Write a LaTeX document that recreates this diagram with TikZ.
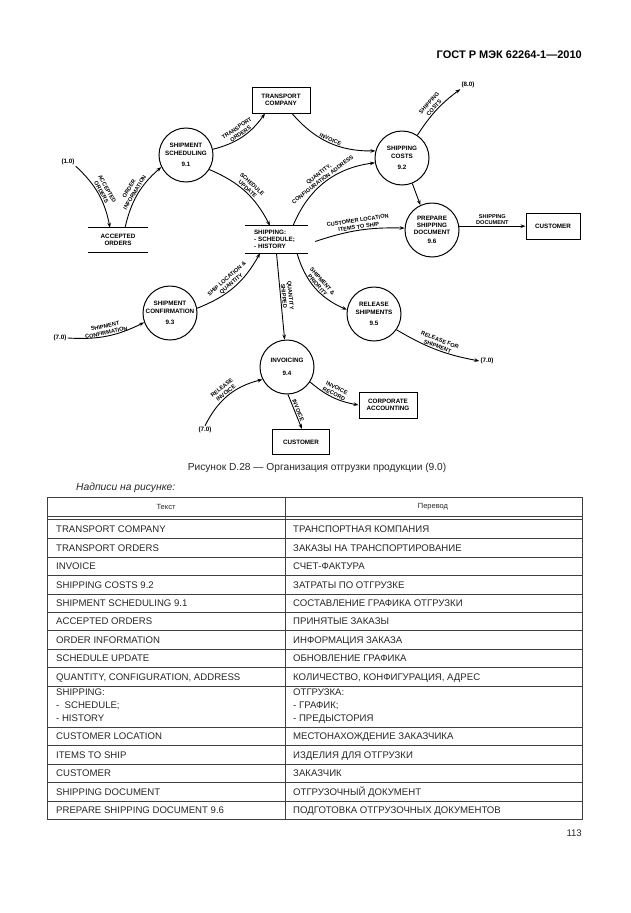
\documentclass[tikz,border=0pt]{standalone}
\usepackage{fontspec}
\setmainfont{Liberation Sans}
\usetikzlibrary{arrows.meta,calc}
\begin{document}
\begin{tikzpicture}[x=1pt,y=-1pt,
 proc/.style={circle,draw,line width=1pt,minimum size=54pt,inner sep=0pt,align=center,font=\fontsize{6.3}{7.2}\selectfont\bfseries},
 ext/.style={rectangle,draw,line width=1pt,minimum width=58pt,minimum height=26pt,inner sep=1pt,align=center,font=\fontsize{6.3}{7.5}\selectfont\bfseries},
 storebox/.style={inner sep=0pt,minimum height=24pt,minimum width=60pt,align=center,font=\fontsize{6.3}{7.3}\selectfont\bfseries},
 storeline/.style={line width=1pt},
 term/.style={font=\fontsize{6.3}{7}\selectfont\bfseries,inner sep=1pt},
 flow/.style={-{Stealth[length=5pt,width=3.6pt]},line width=0.9pt},
 lbl/.style={font=\fontsize{5.6}{6.6}\selectfont\bfseries,align=center,inner sep=1pt,sloped},
 tbl/.style={font=\fontsize{9.6}{13}\selectfont,anchor=west,inner sep=0pt,text height=6.9pt,text depth=0pt,text=black!85},
 tline/.style={line width=0.8pt,black!75},
]
\useasboundingbox (0,0) rectangle (630,913);

% header
\node[anchor=east,font=\fontsize{11}{13}\selectfont\bfseries,inner sep=0pt] (hdr) at (582,55) {ГОСТ Р МЭК 62264-1—2010};

% ---------- diagram nodes ----------
\node[ext] (tc) at (281,100) {TRANSPORT\\COMPANY};
\node[proc] (sched) at (186,155) {SHIPMENT\\SCHEDULING\\[4pt]9.1};
\node[proc] (costs) at (402,158) {SHIPPING\\COSTS\\[4pt]9.2};
\node[proc] (prep) at (432,230) {PREPARE\\SHIPPING\\DOCUMENT\\[2pt]9.6};
\node[ext,minimum width=54pt] (cust1) at (553,226) {CUSTOMER};
\node[proc] (conf) at (170,313) {SHIPMENT\\CONFIRMATION\\[4pt]9.3};
\node[proc] (inv) at (287,367) {INVOICING\\[6pt]9.4};
\node[proc] (rel) at (374,314) {RELEASE\\SHIPMENTS\\[4pt]9.5};
\node[ext] (corp) at (388,405) {CORPORATE\\ACCOUNTING};
\node[ext,minimum width=57pt,minimum height=25pt] (cust2) at (301,442) {CUSTOMER};

\node[storebox] (acc) at (118,240) {ACCEPTED\\ORDERS};
\draw[storeline] (acc.north west) -- (acc.north east) (acc.south west) -- (acc.south east);
\node[storebox,minimum height=27pt,text width=45pt,inner xsep=9pt,align=left] (shp) at (276.5,239.5) {SHIPPING:\\- SCHEDULE;\\- HISTORY};
\draw[storeline] (shp.north west) -- (shp.north east) (shp.south west) -- (shp.south east);

\node[term] (t1) at (68,162) {(1.0)};
\node[term] (t8) at (468,85) {(8.0)};
\node[term] (t7a) at (60,338) {(7.0)};
\node[term] (t7b) at (487,361) {(7.0)};
\node[term] (t7c) at (205,430) {(7.0)};

% ---------- flows ----------
\draw[flow] (t1.south east) to[bend left=18] node[lbl,above]{ACCEPTED\\ORDERS} ([xshift=-8pt]acc.north);
\draw[flow] ([xshift=7pt]acc.north) to[bend left=18] node[lbl,above]{ORDER\\INFORMATION} (sched.206);
\draw[flow] (sched.12) to[bend right=20] node[lbl,above]{TRANSPORT\\ORDERS} ([xshift=-16pt]tc.south);
\draw[flow] ([xshift=11pt]tc.south) to[bend right=25] node[lbl,above]{INVOICE} (costs.165);
\draw[flow] (sched.-32) to[bend left=20] node[lbl,above]{SCHEDULE\\UPDATE} ([xshift=-6.5pt]shp.north);
\draw[flow] ([xshift=16.5pt]shp.north) to[bend left=30] node[lbl,above]{QUANTITY,\\CONFIGURATION ADDRESS} (costs.190);
\draw[flow] (costs.56) to[bend left=10] node[lbl,above]{SHIPPING\\COSTS} (t8.south west);
\draw[flow] (costs.-68) -- (prep.115);
\draw[flow] ([xshift=7pt,yshift=-2pt]shp.east) to[bend left=10] node[lbl,above]{CUSTOMER LOCATION\\ITEMS TO SHIP} (prep.176);
\draw[flow] (prep.8) -- node[lbl,above]{SHIPPING\\DOCUMENT} (prep.8 -| cust1.west);
\draw[flow] (t7a.east) to[bend right=15] node[lbl,above]{SHIPMENT\\CONFIRMATION} (conf.200);
\draw[flow] (conf.10) to[bend right=20] node[lbl,above]{SHIP LOCATION \&\\QUANTITY} ([xshift=-16.5pt]shp.south);
\draw[flow] (shp.south) -- node[lbl,above]{QUANTITY\\SHIPPED} (inv.95);
\draw[flow] ([xshift=20.5pt]shp.south) to[bend right=25] node[lbl,above]{SHIPMENT \&\\PRIORITY} (rel.171);
\draw[flow] (rel.-35) to[bend right=10] node[lbl,above]{RELEASE FOR\\SHIPMENT} (t7b.west);
\draw[flow] (t7c.north) to[bend left=25] node[lbl,above]{RELEASE\\INVOICE} (inv.207);
\draw[flow] (inv.-33) to[bend right=15] node[lbl,above]{INVOICE\\RECORD} (corp.west);
\draw[flow] (inv.-88) -- node[lbl,above]{INVOICE} ([xshift=1pt]cust2.north);

% ---------- caption ----------
\node[font=\fontsize{10.2}{12}\selectfont,text=black!85,inner sep=0pt] (cap) at (317,468) {Рисунок D.28 — Организация отгрузки продукции (9.0)};
\node[font=\fontsize{10.3}{12}\selectfont\itshape,text=black!85,anchor=west,inner sep=0pt] (legend) at (76,488) {Надписи на рисунке:};

% ---------- table ----------
\draw[tline] (47,497) rectangle (582,819.5);
\draw[tline] (285,497) -- (285,819.5);
\foreach \yy in {516.5,519.5,538.5,557,575.5,594,612,630.5,649,667.5,686,727,745.5,764,782.5,801}
  \draw[tline] (47,\yy) -- (582,\yy);

\node[font=\fontsize{7.5}{9}\selectfont,text=black!85,inner sep=0pt] (hL) at (166,507) {Текст};
\node[font=\fontsize{7.5}{9}\selectfont,text=black!85,inner sep=0pt] (hR) at (433,507) {Перевод};

\node[tbl] (L1) at (56,529) {TRANSPORT COMPANY};
\node[tbl] (R1) at (293,529) {ТРАНСПОРТНАЯ КОМПАНИЯ};
\node[tbl] (L2) at (56,547.75) {TRANSPORT ORDERS};
\node[tbl] (R2) at (293,547.75) {ЗАКАЗЫ НА ТРАНСПОРТИРОВАНИЕ};
\node[tbl] (L3) at (56,566.25) {INVOICE};
\node[tbl] (R3) at (293,566.25) {СЧЕТ-ФАКТУРА};
\node[tbl] (L4) at (56,584.75) {SHIPPING COSTS 9.2};
\node[tbl] (R4) at (293,584.75) {ЗАТРАТЫ ПО ОТГРУЗКЕ};
\node[tbl] (L5) at (56,603) {SHIPMENT SCHEDULING 9.1};
\node[tbl] (R5) at (293,603) {СОСТАВЛЕНИЕ ГРАФИКА ОТГРУЗКИ};
\node[tbl] (L6) at (56,621.25) {ACCEPTED ORDERS};
\node[tbl] (R6) at (293,621.25) {ПРИНЯТЫЕ ЗАКАЗЫ};
\node[tbl] (L7) at (56,639.75) {ORDER INFORMATION};
\node[tbl] (R7) at (293,639.75) {ИНФОРМАЦИЯ ЗАКАЗА};
\node[tbl] (L8) at (56,658.25) {SCHEDULE UPDATE};
\node[tbl] (R8) at (293,658.25) {ОБНОВЛЕНИЕ ГРАФИКА};
\node[tbl] (L9) at (56,676.75) {QUANTITY, CONFIGURATION, ADDRESS};
\node[tbl] (R9) at (293,676.75) {КОЛИЧЕСТВО, КОНФИГУРАЦИЯ, АДРЕС};
\node[tbl,anchor=north west,align=left,text height=,text depth=] (L10) at (56,688.5) {SHIPPING:\\-\ \ SCHEDULE;\\- HISTORY};
\node[tbl,anchor=north west,align=left,text height=,text depth=] (R10) at (293,688.5) {ОТГРУЗКА:\\- ГРАФИК;\\- ПРЕДЫСТОРИЯ};
\node[tbl] (L11) at (56,736.25) {CUSTOMER LOCATION};
\node[tbl] (R11) at (293,736.25) {МЕСТОНАХОЖДЕНИЕ ЗАКАЗЧИКА};
\node[tbl] (L12) at (56,754.75) {ITEMS TO SHIP};
\node[tbl] (R12) at (293,754.75) {ИЗДЕЛИЯ ДЛЯ ОТГРУЗКИ};
\node[tbl] (L13) at (56,773.25) {CUSTOMER};
\node[tbl] (R13) at (293,773.25) {ЗАКАЗЧИК};
\node[tbl] (L14) at (56,791.75) {SHIPPING DOCUMENT};
\node[tbl] (R14) at (293,791.75) {ОТГРУЗОЧНЫЙ ДОКУМЕНТ};
\node[tbl] (L15) at (56,810.25) {PREPARE SHIPPING DOCUMENT 9.6};
\node[tbl] (R15) at (293,810.25) {ПОДГОТОВКА ОТГРУЗОЧНЫХ ДОКУМЕНТОВ};

\node[font=\fontsize{9.6}{11}\selectfont,text=black!85,anchor=east,inner sep=0pt] (pg) at (582,833) {113};
\end{tikzpicture}
\end{document}
